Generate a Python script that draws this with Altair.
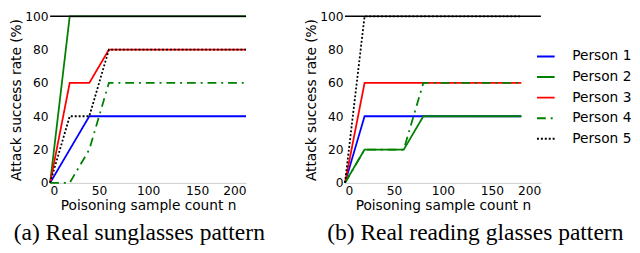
import altair as alt
import pandas as pd

persons = ["Person 1", "Person 2", "Person 3", "Person 4", "Person 5"]
colors = ["#0000ff", "#008000", "#ff0000", "#008000", "#000000"]
dashes = [[1, 0], [1, 0], [1, 0], [9, 5, 2, 5], [2, 2]]

# (a) Real sunglasses pattern
x_a = [0, 20, 40, 60, 80, 100, 120, 140, 160, 180, 200]
a_p1 = [0, 20, 40, 40, 40, 40, 40, 40, 40, 40, 40]
a_p2 = [0, 100, 100, 100, 100, 100, 100, 100, 100, 100, 100]
a_p3 = [0, 60, 60, 80, 80, 80, 80, 80, 80, 80, 80]
a_p4 = [0, 0, 20, 60, 60, 60, 60, 60, 60, 60, 60]
a_p5 = [0, 40, 40, 80, 80, 80, 80, 80, 80, 80, 80]

# (b) Real reading glasses pattern
x_b = [0, 20, 40, 60, 80, 100, 120, 140, 160, 180]
b_p1 = [0, 40, 40, 40, 40, 40, 40, 40, 40, 40]
b_p2 = [0, 20, 20, 20, 40, 40, 40, 40, 40, 40]
b_p3 = [0, 60, 60, 60, 60, 60, 60, 60, 60, 60]
b_p4 = [0, 20, 20, 20, 60, 60, 60, 60, 60, 60]
b_p5 = [0, 100, 100, 100, 100, 100, 100, 100, 100, 100]

x_ticks = [0, 50, 100, 150, 200]
y_ticks = [0, 20, 40, 60, 80, 100]
top_line = [100]


def long_df(xs, series):
    rows = []
    for name, vals in zip(persons, series):
        for x, v in zip(xs, vals):
            rows.append({"n": x, "rate": v, "person": name})
    return pd.DataFrame(rows)


df_a = long_df(x_a, [a_p1, a_p2, a_p3, a_p4, a_p5])
df_b = long_df(x_b, [b_p1, b_p2, b_p3, b_p4, b_p5])

W, H = 200, 170

y_scale = alt.Scale(domain=[0, 100], nice=False)
y_axis = alt.Axis(values=y_ticks, title="Attack success rate (%)", labelPadding=2,
                  titlePadding=1, labelOverlap=False, labelFlush=False)


def panel(df, caption, dx, legend):
    lines = alt.Chart(df).mark_line(strokeWidth=1.8, clip=False).encode(
        x=alt.X("n:Q", scale=alt.Scale(domain=[0, 200], nice=False),
                axis=alt.Axis(values=x_ticks, title="Poisoning sample count n",
                              labelPadding=2, titlePadding=2, labelOverlap=False)),
        y=alt.Y("rate:Q", scale=y_scale, axis=y_axis),
        color=alt.Color("person:N", scale=alt.Scale(domain=persons, range=colors), legend=legend),
        strokeDash=alt.StrokeDash("person:N", scale=alt.Scale(domain=persons, range=dashes), legend=legend),
        order=alt.Order("n:Q"),
    )
    top = alt.Chart(pd.DataFrame({"rate": top_line})).mark_rule(color="black", strokeWidth=1.5).encode(
        y=alt.Y("rate:Q", scale=y_scale, axis=y_axis)
    )
    return alt.layer(lines, top).properties(
        width=W, height=H,
        title=alt.TitleParams(text=caption, orient="bottom", font="Liberation Serif", fontSize=24,
                              fontWeight="normal", anchor="middle", frame="group", dx=dx,
                              offset=9, color="black"),
    )


leg = alt.Legend(title=None, orient="none", legendX=195, legendY=31, symbolType="stroke",
                 symbolSize=324, symbolStrokeWidth=2, labelFont="DejaVu Sans", labelFontSize=14,
                 labelOffset=17, rowPadding=4, padding=0, labelColor="black")

left = panel(df_a, "(a) Real sunglasses pattern", -9, None)
right = panel(df_b, "(b) Real reading glasses pattern", 33, leg)

chart = alt.hconcat(left, right, spacing=40).resolve_scale(
    color="independent", strokeDash="independent"
).resolve_legend(color="independent", strokeDash="independent").properties(
    padding={"left": 2, "top": 0, "right": 0, "bottom": 0}
).configure_axis(
    labelFont="DejaVu Sans", labelFontSize=12.5, titleFont="DejaVu Sans", titleFontSize=14,
    titleFontWeight="normal", grid=False, ticks=False, labelColor="black", titleColor="black",
    labelOverlap=False
).configure_axisY(domain=False).configure_axisX(domainColor="#cccccc", domainWidth=1).configure_view(
    stroke=None
)

chart.save("out.html", embed_options={"renderer": "svg", "actions": False})
